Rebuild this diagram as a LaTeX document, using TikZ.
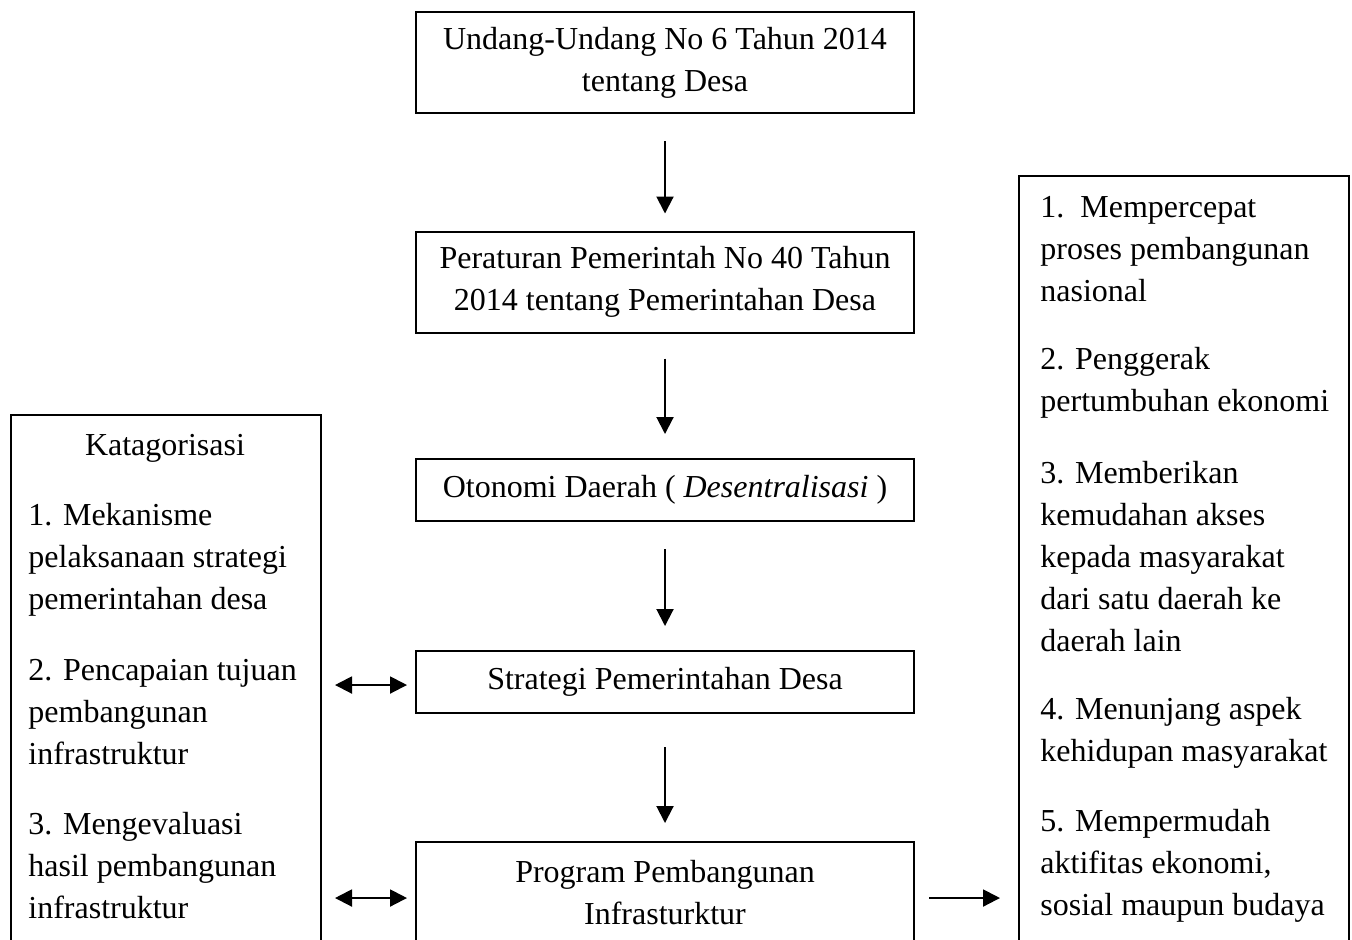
\documentclass[tikz,border=0pt]{standalone}
\usepackage{fontspec}
\setmainfont{Liberation Serif}
\usetikzlibrary{arrows.meta,positioning}

\begin{document}
\begin{tikzpicture}[x=0.5pt,y=-0.5pt,font=\fontsize{16}{21}\selectfont,
  box/.style={draw,line width=1pt,minimum width=249pt,minimum height=50.5pt,align=center,inner sep=0pt},
  tall/.style={draw,line width=1pt,anchor=north west,inner sep=0pt},
  item/.style={anchor=west,align=left,inner sep=0pt},
  arr/.style={-{Triangle[length=8.5pt,width=8.5pt]},line width=1pt},
  dbl/.style={{Triangle[length=8.5pt,width=8.5pt]}-{Triangle[length=8.5pt,width=8.5pt]},line width=1pt}]
\clip (0,0) rectangle (1352,939);
% main column
\node[box](uu)at(665,62.5){Undang-Undang No 6 Tahun 2014\\tentang Desa};
\node[box](pp)at(665,282){Peraturan Pemerintah No 40 Tahun\\2014 tentang Pemerintahan Desa};
\node[box,minimum height=31pt](od)at(665,490){Otonomi Daerah ( \textit{Desentralisasi} )};
\node[box,minimum height=31pt](sp)at(665,682){Strategi Pemerintahan Desa};
\node[box](pi)at(665,892.5){Program Pembangunan\\Infrasturktur};
\draw[arr,shorten <=13.5pt,shorten >=8.5pt](uu)--(pp);
\draw[arr,shorten <=12.5pt,shorten >=12pt](pp)--(od);
\draw[arr,shorten <=13.5pt,shorten >=12pt](od)--(sp);
\draw[arr,shorten <=16.5pt,shorten >=9pt](sp)--(pi);
% left box
\node[tall,minimum width=155pt,minimum height=300pt](kat)at(10,414){};
\node(kt)at(165,448){Katagorisasi};
\node[item](k1)at(28,559.5){1. Mekanisme\\pelaksanaan strategi\\pemerintahan desa};
\node[item](k2)at(28,712){2. Pencapaian tujuan\\pembangunan\\infrastruktur};
\node[item](k3)at(28,865.5){3. Mengevaluasi\\hasil pembangunan\\infrastruktur};
\coordinate(d1)at(kat.east|-0,685);
\coordinate(d2)at(kat.east|-0,898);
\draw[dbl,shorten <=6.5pt,shorten >=4pt](d1)--(sp.west|-d1);
\draw[dbl,shorten <=6.5pt,shorten >=4pt](d2)--(pi.west|-d2);
% right box
\node[tall,minimum width=165pt,minimum height=450pt](rb)at(1018,175){};
\node[item](r1)at(1040,249){1.\ \ Mempercepat\\proses pembangunan\\nasional};
\node[item](r2)at(1040,383){2. Penggerak\\pertumbuhan ekonomi};
\node[item](r3)at(1040,557){3. Memberikan\\kemudahan akses\\kepada masyarakat\\dari satu daerah ke\\daerah lain};
\node[item](r4)at(1040,733){4. Menunjang aspek\\kehidupan masyarakat};
\node[item](r5)at(1040,865.5){5. Mempermudah\\aktifitas ekonomi,\\sosial maupun budaya};
\coordinate(d3)at(pi.east|-0,898);
\draw[arr,shorten <=7pt,shorten >=9pt](d3)--(rb.west|-d3);
\end{tikzpicture}
\end{document}
